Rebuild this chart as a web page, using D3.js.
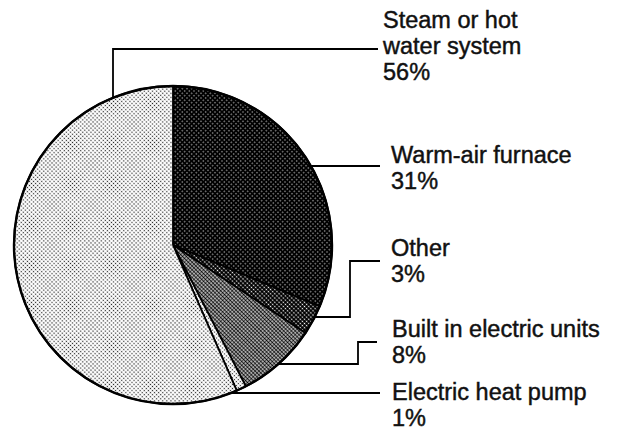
<!DOCTYPE html>
<html>
<head>
<meta charset="utf-8">
<script src="https://cdn.jsdelivr.net/npm/d3@7"></script>
<style>
  body { margin: 0; background: #fff; }
  svg { display: block; }
  .lbl { font-family: "Liberation Sans", Arial, sans-serif; font-size: 23.5px; fill: #111; stroke: #111; stroke-width: 0.45px; }
</style>
</head>
<body>
<div id="chart"></div>
<script>
// slices clockwise from 12 o'clock
var categories = ["Warm-air furnace", "Other", "Built in electric units", "Electric heat pump", "Steam or hot water system"];
var shares = [31, 3, 8, 1, 56];
var labelLines = [["Warm-air furnace", "31%"],
                  ["Other", "3%"],
                  ["Built in electric units", "8%"],
                  ["Electric heat pump", "1%"],
                  ["Steam or hot", "water system", "56%"]];

var W = 623, H = 430;
var cx = 173, cy = 245, R = 159;

var svg = d3.select("#chart").append("svg")
  .attr("width", W)
  .attr("height", H);

var defs = svg.append("defs");

// halftone-ish fills
function dotPattern(id, bg, fg, r, size){
  var p = defs.append("pattern")
    .attr("id", id)
    .attr("patternUnits", "userSpaceOnUse")
    .attr("width", size).attr("height", size)
    .attr("patternTransform", "rotate(45)");
  p.append("rect").attr("width", size).attr("height", size).attr("fill", bg);
  p.append("circle").attr("cx", size/2).attr("cy", size/2).attr("r", r).attr("fill", fg);
}
dotPattern("p0", "#000", "#fff", 0.6, 3.3);
dotPattern("p1", "#000", "#fff", 0.8, 3.0);
dotPattern("p2", "#fff", "#000", 1.2, 2.7);
dotPattern("p3", "#fff", "#222", 0.7, 2.8);
dotPattern("p4", "#fff", "#222", 0.75, 2.9);

var pie = d3.pie().sort(null).value(function(d){ return d; });
var arc = d3.arc().innerRadius(0).outerRadius(R);

var g = svg.append("g").attr("transform", "translate(" + cx + "," + cy + ")");

g.selectAll("path.slice")
  .data(pie(shares))
  .enter().append("path")
  .attr("class", "slice")
  .attr("d", arc)
  .attr("fill", function(d, i){ return "url(#p" + i + ")"; })
  .attr("stroke", "#000")
  .attr("stroke-width", 1.8)
  .attr("stroke-linejoin", "round");

g.append("circle")
  .attr("r", R)
  .attr("fill", "none")
  .attr("stroke", "#000")
  .attr("stroke-width", 2.4);

// leader lines: start on the rim at a given height, then elbow to the label
function rimX(y, side){
  var dy = y - cy;
  return cx + side * Math.sqrt(R*R - dy*dy);
}

var leaders = [
  { y0: 166, pts: function(x0){ return [[x0,166],[380,166]]; }, side: 1 },
  { y0: 317, pts: function(x0){ return [[x0,317],[350,317],[350,261],[380,261]]; }, side: 1 },
  { y0: 364, pts: function(x0){ return [[x0,364],[358,364],[358,342],[377,342]]; }, side: 1 },
  { y0: 393, pts: function(x0){ return [[x0,393],[380,393]]; }, side: 1 }
];

var line = d3.line();
leaders.forEach(function(l){
  svg.append("path")
    .attr("d", line(l.pts(rimX(l.y0, l.side))))
    .attr("fill", "none")
    .attr("stroke", "#000")
    .attr("stroke-width", 1.8);
});

// steam line goes up from the top-left rim
var sx = 113;
var sy = cy - Math.sqrt(R*R - (sx-cx)*(sx-cx));
svg.append("path")
  .attr("d", line([[sx, sy], [sx, 49], [378, 49]]))
  .attr("fill", "none")
  .attr("stroke", "#000")
  .attr("stroke-width", 1.8);

// labels
var labelPos = [[391, 163], [391, 256], [392, 337], [392, 400], [383, 28]];
var lineGap = 26;

labelLines.forEach(function(lines, i){
  var t = svg.append("text")
    .attr("class", "lbl")
    .attr("x", labelPos[i][0])
    .attr("y", labelPos[i][1]);
  lines.forEach(function(s, j){
    t.append("tspan")
      .attr("x", labelPos[i][0])
      .attr("dy", j === 0 ? 0 : lineGap)
      .text(s);
  });
});
</script>
</body>
</html>
